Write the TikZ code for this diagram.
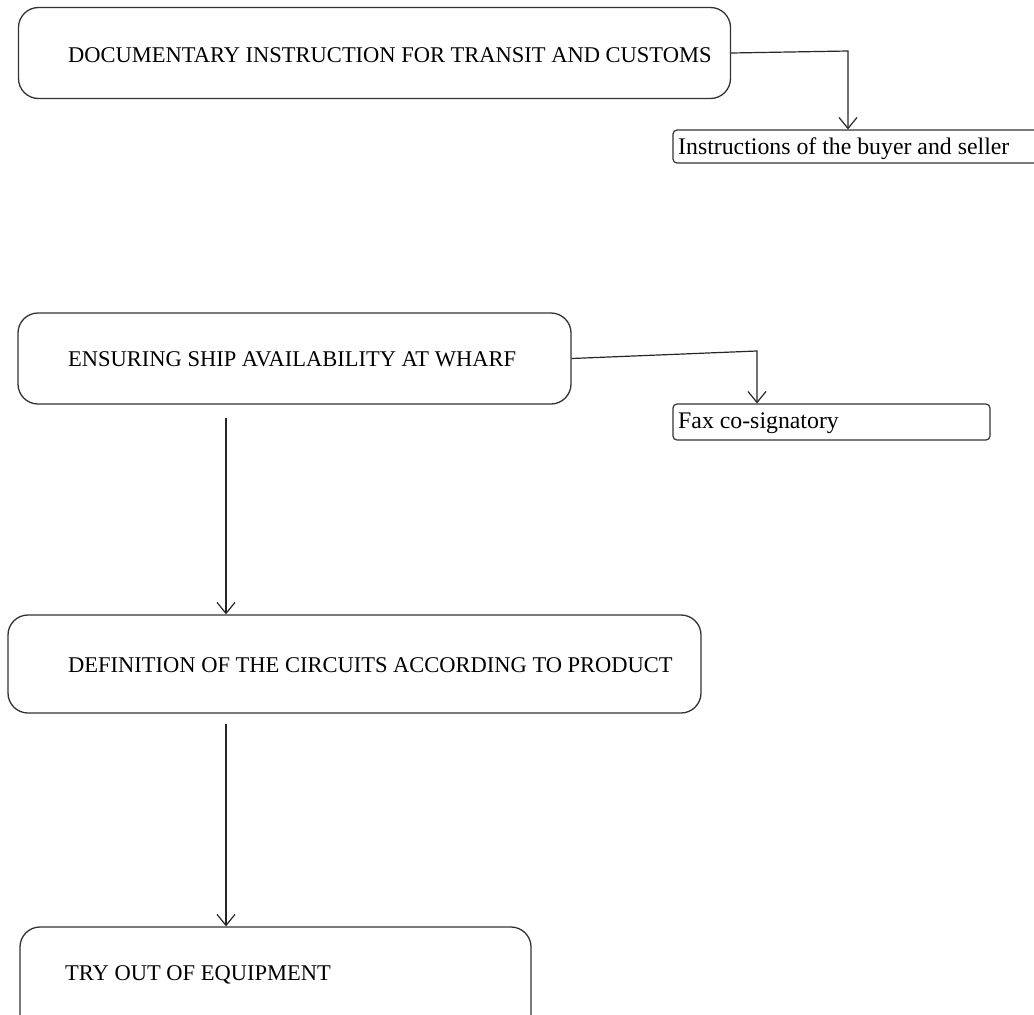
\documentclass[tikz,border=0pt]{standalone}
\usepackage{fontspec}
\setmainfont{Liberation Serif}
\usetikzlibrary{arrows.meta}
\begin{document}
\begin{tikzpicture}[x=1pt,y=-1pt,
  bigbox/.style={draw=black!80,line width=1.3pt,rounded corners=20pt,inner sep=0pt},
  smallbox/.style={draw=black!80,line width=1.2pt,rounded corners=4pt,inner sep=0pt},
  lbl/.style={anchor=base west,inner sep=0pt,font=\fontsize{22.5}{27}\selectfont},
  note/.style={lbl,font=\fontsize{23.8}{28}\selectfont},
  link/.style={draw=black!85,line width=1.2pt},
  arr/.style={link,-{Straight Barb[length=11pt,width=18pt,line width=1.2pt]}}]
\useasboundingbox (0,0) rectangle (1034,1015);

% main steps
\node[bigbox,minimum width=712pt,minimum height=91pt] (b1) at (374.5,53) {};
\node[bigbox,minimum width=553pt,minimum height=91pt] (b2) at (294.5,358.5) {};
\node[bigbox,minimum width=693pt,minimum height=98pt] (b3) at (354.5,664) {};
\node[bigbox,minimum width=511pt,minimum height=110pt] (b4) at (275.5,982) {};

\node[lbl] (t1) at (68,62) {DOCUMENTARY INSTRUCTION FOR TRANSIT AND CUSTOMS};
\node[lbl] (t2) at (68,366) {ENSURING SHIP AVAILABILITY AT WHARF};
\node[lbl] (t3) at (68,672) {DEFINITION OF THE CIRCUITS ACCORDING TO PRODUCT};
\node[lbl] (t4) at (65,980) {TRY OUT OF EQUIPMENT};

% side notes
\node[smallbox,minimum width=366pt,minimum height=33pt] (s1) at (856,146.5) {};
\node[smallbox,minimum width=317pt,minimum height=36pt] (s2) at (831.5,422) {};
\node[note] (u1) at (678,154) {Instructions of the buyer and seller};
\node[note] (u2) at (678,428) {Fax co-signatory};

% connectors
\coordinate (k1) at (848,51);
\coordinate (k2) at (757,351);
\draw[arr] (b1.east) -- (k1) -- (k1 |- s1.north);
\draw[arr] (b2.east) -- (k2) -- (k2 |- s2.north);

\coordinate (a1) at (226,418);
\coordinate (a2) at (226,724);
\draw[arr] (a1) -- (a1 |- b3.north);
\draw[arr] (a2) -- (a2 |- b4.north);
\end{tikzpicture}
\end{document}
